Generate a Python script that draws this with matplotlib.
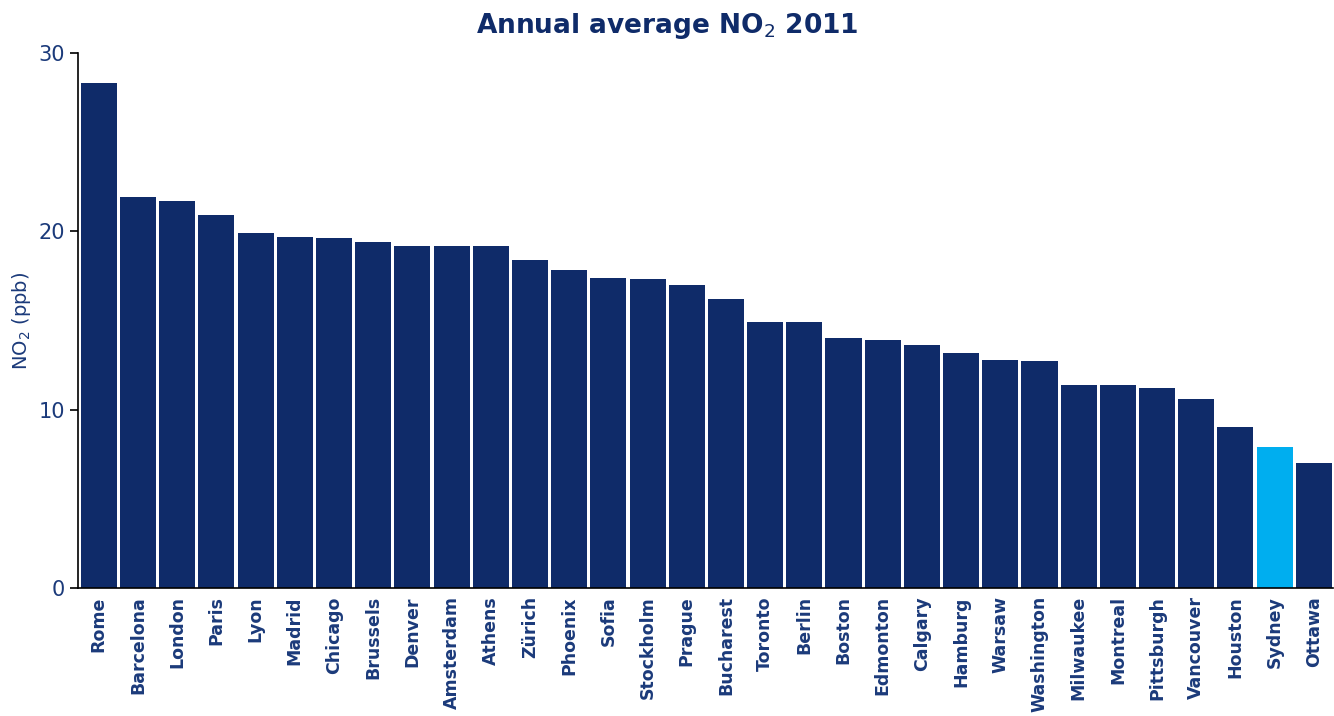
import matplotlib.pyplot as plt

cities = ["Rome", "Barcelona", "London", "Paris", "Lyon", "Madrid", "Chicago",
          "Brussels", "Denver", "Amsterdam", "Athens", "Zürich", "Phoenix",
          "Sofia", "Stockholm", "Prague", "Bucharest", "Toronto", "Berlin",
          "Boston", "Edmonton", "Calgary", "Hamburg", "Warsaw", "Washington",
          "Milwaukee", "Montreal", "Pittsburgh", "Vancouver", "Houston",
          "Sydney", "Ottawa"]
no2 = [28.3, 21.9, 21.7, 20.9, 19.9, 19.7, 19.6, 19.4, 19.2, 19.2, 19.2,
       18.4, 17.8, 17.4, 17.3, 17.0, 16.2, 14.9, 14.9, 14.0, 13.9, 13.6,
       13.2, 12.8, 12.75, 11.4, 11.4, 11.2, 10.6, 9.0, 7.9, 7.0]
highlight = "Sydney"

navy = "#0F2B69"
light = "#00AEEF"
txt = "#1B3A7A"

plt.rcParams['font.family'] = ['DejaVu Sans']

fig = plt.figure(figsize=(13.34, 7.16), dpi=100)
ax = fig.add_axes([0.0585, 0.179, 0.9405, 0.747])

colors = [light if c == highlight else navy for c in cities]
ax.bar(range(len(cities)), no2, width=0.92, color=colors)

ax.set_xlim(-0.53, len(cities) - 0.52)
ax.set_ylim(0, 30)
ax.set_yticks([0, 10, 20, 30])
ax.tick_params(axis='y', labelsize=15, labelcolor=txt, length=6, width=1.2, color='black')
ax.set_xticks(range(len(cities)))
ax.set_xticklabels(cities, rotation=90, fontsize=12.5, fontweight='bold', color=txt)
ax.tick_params(axis='x', length=0, pad=6)

for s in ['top', 'right']:
    ax.spines[s].set_visible(False)
ax.spines['left'].set_linewidth(1.2)
ax.spines['bottom'].set_linewidth(1.2)

ax.set_ylabel("NO$_2$ (ppb)", fontsize=14, color=txt, labelpad=4)
fig.suptitle("Annual average NO$_2$ 2011", fontsize=19, fontweight='bold', color=navy, y=0.985)

fig.savefig("out.png", dpi=100)
